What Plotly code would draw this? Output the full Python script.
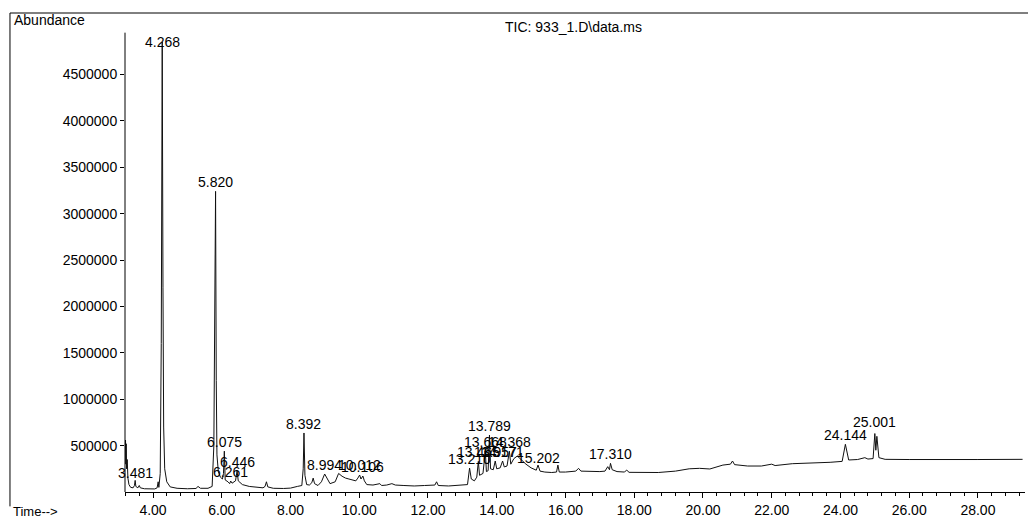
import plotly.graph_objects as go

# ---- data ----
time_min = [3.19, 3.20, 3.21, 3.22, 3.23, 3.25, 3.27, 3.30, 3.35, 3.42, 3.46, 3.481, 3.50, 3.56, 3.60, 3.63,
            3.75, 3.90, 4.05, 4.12, 4.15, 4.17, 4.21, 4.24, 4.268, 4.29, 4.31, 4.34, 4.40, 4.50, 4.70,
            5.00, 5.25, 5.31, 5.38, 5.60, 5.72, 5.77, 5.80, 5.82, 5.84, 5.86, 5.90, 5.96, 6.02, 6.05,
            6.075, 6.10, 6.18, 6.23, 6.261, 6.30, 6.40, 6.446, 6.48, 6.60, 6.80, 7.00, 7.20, 7.26, 7.30,
            7.34, 7.50, 7.80, 8.00, 8.20, 8.33, 8.37, 8.392, 8.42, 8.47, 8.55, 8.62, 8.66, 8.70, 8.80,
            8.90, 8.994, 9.05, 9.15, 9.30, 9.40, 9.50, 9.60, 9.70, 9.80, 9.90, 9.96, 10.012, 10.05,
            10.106, 10.15, 10.22, 10.40, 10.60, 10.65, 10.80, 10.95, 11.05, 11.30, 11.60, 11.90, 12.20,
            12.25, 12.30, 12.60, 13.00, 13.15, 13.21, 13.26, 13.35, 13.42, 13.465, 13.50, 13.60, 13.668,
            13.70, 13.75, 13.789, 13.82, 13.90, 13.957, 14.00, 14.10, 14.171, 14.22, 14.30, 14.368,
            14.41, 14.50, 14.60, 14.70, 14.85, 15.00, 15.15, 15.202, 15.26, 15.40, 15.60, 15.74, 15.78,
            15.82, 16.00, 16.30, 16.38, 16.45, 16.70, 17.00, 17.15, 17.23, 17.28, 17.31, 17.36, 17.50,
            17.72, 17.78, 17.85, 18.20, 18.70, 19.20, 19.60, 19.90, 20.20, 20.58, 20.80, 20.86, 20.92,
            21.30, 21.70, 22.00, 22.10, 22.60, 23.20, 23.70, 24.05, 24.144, 24.24, 24.50, 24.71, 24.80,
            24.95, 25.001, 25.03, 25.06, 25.12, 25.30, 26.00, 27.00, 28.00, 29.30]
abundance = [480000, 560000, 300000, 520000, 250000, 350000, 150000, 80000, 50000, 45000, 70000, 125000,
             60000, 45000, 70000, 45000, 35000, 32000, 33000, 45000, 110000, 50000, 200000, 1600000,
             4850000, 2200000, 700000, 250000, 110000, 55000, 40000, 35000, 38000, 60000, 40000, 40000,
             60000, 500000, 2000000, 3240000, 1200000, 400000, 220000, 160000, 140000, 200000, 440000,
             130000, 110000, 90000, 118000, 95000, 120000, 228000, 120000, 80000, 60000, 50000, 45000,
             60000, 110000, 55000, 40000, 38000, 42000, 60000, 70000, 250000, 636000, 180000, 80000,
             75000, 100000, 150000, 90000, 70000, 110000, 194000, 150000, 90000, 110000, 200000, 170000,
             150000, 140000, 130000, 120000, 150000, 183000, 140000, 172000, 120000, 80000, 75000, 90000,
             70000, 75000, 90000, 75000, 70000, 65000, 70000, 75000, 110000, 70000, 65000, 70000, 80000,
             258000, 140000, 120000, 160000, 330000, 180000, 200000, 440000, 220000, 230000, 614000,
             250000, 240000, 334000, 250000, 260000, 334000, 270000, 280000, 440000, 300000, 360000,
             388000, 350000, 300000, 260000, 235000, 290000, 225000, 215000, 210000, 215000, 290000,
             215000, 215000, 225000, 255000, 225000, 220000, 220000, 225000, 273000, 240000, 309000,
             240000, 220000, 215000, 237000, 212000, 208000, 210000, 225000, 250000, 255000, 248000,
             290000, 300000, 334000, 295000, 280000, 280000, 300000, 285000, 305000, 310000, 320000,
             330000, 514000, 345000, 350000, 370000, 355000, 360000, 630000, 450000, 600000, 370000,
             352000, 350000, 348000, 350000, 352000]

peak_labels = ["3.481", "4.268", "5.820", "6.075", "6.261", "6.446", "8.392", "8.994", "10.012", "10.106",
               "13.210", "13.465", "13.668", "13.789", "13.957", "14.171", "14.368", "15.202", "17.310",
               "24.144", "25.001"]
peak_times = [3.481, 4.268, 5.820, 6.075, 6.261, 6.446, 8.392, 8.994, 10.012, 10.106,
              13.210, 13.465, 13.668, 13.789, 13.957, 14.171, 14.368, 15.202, 17.310, 24.144, 25.001]
label_abundance = [108000, 4750000, 3240000, 442000, 118000, 226000, 636000, 190000, 190000, 172000,
                   258000, 334000, 442000, 614000, 334000, 334000, 442000, 270000, 312000, 517000, 657000]

y_tick_values = [500000, 1000000, 1500000, 2000000, 2500000, 3000000, 3500000, 4000000, 4500000]
y_tick_labels = ["500000", "1000000", "1500000", "2000000", "2500000", "3000000", "3500000", "4000000", "4500000"]

FONT = "Liberation Sans, Arial, sans-serif"

fig = go.Figure()
fig.add_trace(go.Scatter(x=time_min, y=abundance, mode="lines",
                         line=dict(color="#111111", width=1), hoverinfo="skip", showlegend=False))

for txt, t, h in zip(peak_labels, peak_times, label_abundance):
    fig.add_annotation(x=t, y=h, text=txt, showarrow=False, xanchor="center", yanchor="bottom",
                       font=dict(family=FONT, size=14, color="black"), borderpad=0)

fig.add_annotation(xref="paper", yref="paper", x=-0.1256, y=0.9854, text="Abundance", showarrow=False,
                   xanchor="left", yanchor="middle", font=dict(family=FONT, size=14, color="black"))
fig.add_annotation(xref="paper", yref="paper", x=-0.1256, y=-0.0585, text="Time-->", showarrow=False,
                   xanchor="left", yanchor="bottom", font=dict(family=FONT, size=13, color="black"),
                   borderpad=0)
fig.add_annotation(xref="paper", yref="paper", x=0.42, y=0.97, text="TIC: 933_1.D\\data.ms", showarrow=False,
                   xanchor="left", yanchor="middle", font=dict(family=FONT, size=14, color="black"))

# frame lines (outer box left & top) and y axis line
fig.add_shape(type="line", xref="paper", yref="paper", x0=-0.1278, x1=-0.1278, y0=1.0, y1=-0.03,
              line=dict(color="black", width=1))
fig.add_shape(type="line", xref="paper", yref="paper", x0=-0.1278, x1=1.004, y0=1.0, y1=1.0,
              line=dict(color="black", width=1))
fig.add_shape(type="line", xref="paper", yref="y", x0=0, x1=0, y0=0, y1=4950000,
              line=dict(color="black", width=1))

fig.update_layout(
    width=1028, height=521,
    margin=dict(l=125, r=3, t=13, b=29),
    paper_bgcolor="white", plot_bgcolor="white",
    font=dict(family=FONT, size=14, color="black"),
    xaxis=dict(range=[3.185, 29.37], tick0=0, dtick=2, tickformat=".2f", ticks="outside", ticklen=5,
               tickcolor="black", showline=True, linecolor="black", linewidth=1, showgrid=False,
               zeroline=False, tickfont=dict(family=FONT, size=14, color="black"),
               minor=dict(tick0=0, dtick=0.4, ticks="outside", ticklen=3, tickcolor="black", showgrid=False)),
    yaxis=dict(range=[0, 5162000], tickvals=y_tick_values, ticktext=y_tick_labels, ticks="outside",
               ticklen=4, tickcolor="black", showline=False, showgrid=False, zeroline=False,
               tickfont=dict(family=FONT, size=14, color="black")),
)

fig.write_html("out.html", config={"displayModeBar": False},
               post_script="document.body.style.margin='0';document.body.style.overflow='hidden';")
